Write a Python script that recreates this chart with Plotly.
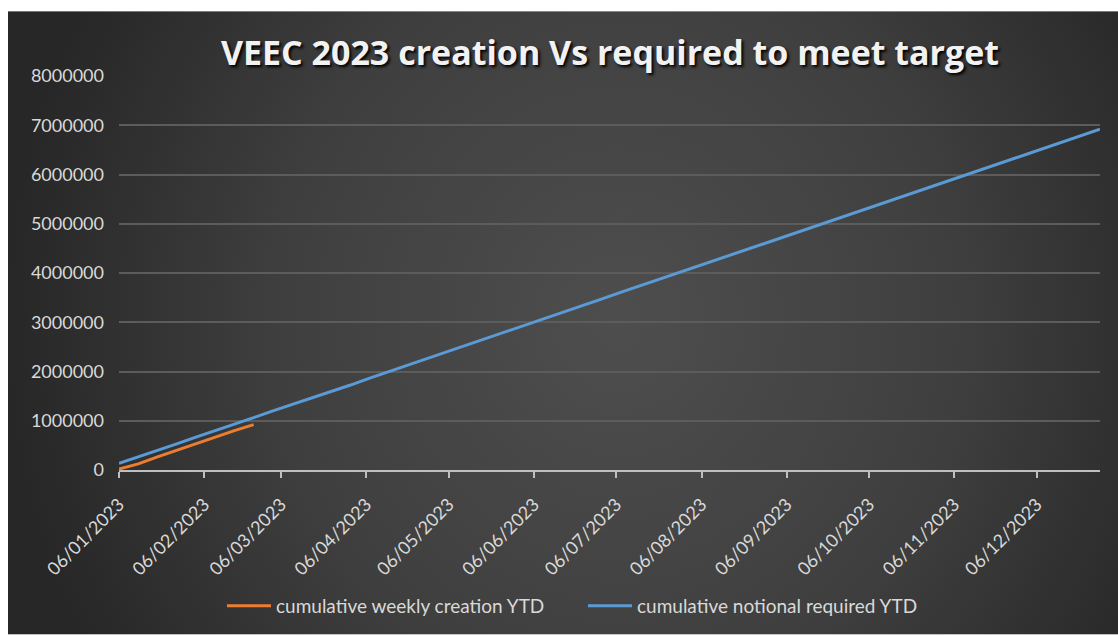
import base64
import plotly.graph_objects as go

# ---------------- data ----------------
week_dates = [
    "2023-01-06", "2023-01-13", "2023-01-20", "2023-01-27",
    "2023-02-03", "2023-02-10", "2023-02-17", "2023-02-24",
    "2023-03-03", "2023-03-10", "2023-03-17", "2023-03-24", "2023-03-31",
    "2023-04-07", "2023-04-14", "2023-04-21", "2023-04-28",
    "2023-05-05", "2023-05-12", "2023-05-19", "2023-05-26",
    "2023-06-02", "2023-06-09", "2023-06-16", "2023-06-23", "2023-06-30",
    "2023-07-07", "2023-07-14", "2023-07-21", "2023-07-28",
    "2023-08-04", "2023-08-11", "2023-08-18", "2023-08-25",
    "2023-09-01", "2023-09-08", "2023-09-15", "2023-09-22", "2023-09-29",
    "2023-10-06", "2023-10-13", "2023-10-20", "2023-10-27",
    "2023-11-03", "2023-11-10", "2023-11-17", "2023-11-24",
    "2023-12-01", "2023-12-08", "2023-12-15", "2023-12-22", "2023-12-29",
]

required_ytd = [
    133000, 262000, 398000, 530000, 668000, 796000, 934000, 1062000,
    1200000, 1328000, 1465000, 1598000, 1720000, 1860000, 1992000, 2128000,
    2255000, 2390000, 2525000, 2660000, 2790000, 2928000, 3060000, 3195000,
    3328000, 3460000, 3595000, 3728000, 3860000, 3995000, 4128000, 4262000,
    4395000, 4528000, 4662000, 4795000, 4928000, 5062000, 5195000, 5328000,
    5462000, 5595000, 5728000, 5862000, 5995000, 6128000, 6262000, 6395000,
    6528000, 6662000, 6795000, 6920000,
]

creation_dates = week_dates[:8]
creation_ytd = [20000, 125000, 265000, 400000, 545000, 670000, 800000, 920000]

tick_dates = [
    "2023-01-06", "2023-02-06", "2023-03-06", "2023-04-06", "2023-05-06", "2023-06-06",
    "2023-07-06", "2023-08-06", "2023-09-06", "2023-10-06", "2023-11-06", "2023-12-06",
]
tick_labels = [
    "06/01/2023", "06/02/2023", "06/03/2023", "06/04/2023", "06/05/2023", "06/06/2023",
    "06/07/2023", "06/08/2023", "06/09/2023", "06/10/2023", "06/11/2023", "06/12/2023",
]

series_names = ["cumulative weekly creation YTD", "cumulative notional required YTD"]
title_text = "VEEC 2023 creation Vs required to meet target"

# ---------------- layout geometry ----------------
W, H = 1118, 636
ML, MR, MT, MB = 119, 18, 76, 165
PW = W - ML - MR
PH = H - MT - MB

# radial gradient background (Excel-style dark chart area)
svg = (
    '<svg xmlns="http://www.w3.org/2000/svg" width="1110" height="625" '
    'viewBox="0 0 1110 625" preserveAspectRatio="none">'
    '<defs><radialGradient id="g" cx="0.55" cy="0.5" r="0.55" '
    'gradientTransform="translate(0.55,0.5) scale(1,1.9) translate(-0.55,-0.5)">'
    '<stop offset="0" stop-color="#4e4e4e"/>'
    '<stop offset="0.55" stop-color="#3f3f3f"/>'
    '<stop offset="1" stop-color="#272727"/>'
    '</radialGradient></defs>'
    '<rect x="0" y="0" width="1110" height="625" fill="url(#g)"/></svg>'
)
svg_uri = "data:image/svg+xml;base64," + base64.b64encode(svg.encode()).decode()

bg_left, bg_top, bg_right, bg_bottom = 8, 11, W, H
img_x = (bg_left - ML) / PW
img_y = (H - MB - bg_top) / PH
img_sx = (bg_right - bg_left) / PW
img_sy = (bg_bottom - bg_top) / PH

fig = go.Figure()
fig.add_trace(go.Scatter(
    x=creation_dates, y=creation_ytd, mode="lines", name=series_names[0],
    line=dict(color="#ed7d31", width=3),
))
fig.add_trace(go.Scatter(
    x=week_dates, y=required_ytd, mode="lines", name=series_names[1],
    line=dict(color="#5b9bd5", width=3),
))

label_font = dict(family="Lato, 'Open Sans', sans-serif", size=18, color="#d9d9d9")
legend_font = dict(family="Lato, 'Open Sans', sans-serif", size=19, color="#d9d9d9")

fig.update_layout(
    width=W, height=H,
    margin=dict(l=ML, r=MR, t=MT, b=MB, pad=0),
    paper_bgcolor="white",
    plot_bgcolor="rgba(0,0,0,0)",
    images=[dict(
        source=svg_uri, xref="paper", yref="paper",
        x=img_x, y=img_y, sizex=img_sx, sizey=img_sy,
        xanchor="left", yanchor="top", sizing="stretch", layer="below",
    )],
    title=dict(
        text=title_text,
        x=610 / W, xanchor="center",
        y=1 - 53 / H, yanchor="middle", yref="container",
        font=dict(family="'Open Sans', Lato, sans-serif", size=34, color="#f2f2f2",
                  weight="bold", shadow="2px 2px 3px #000000"),
    ),
    xaxis=dict(
        type="date",
        range=[week_dates[0], week_dates[-1]],
        tickvals=tick_dates, ticktext=tick_labels,
        tickangle=-45, tickfont=label_font,
        showgrid=False, zeroline=False,
        showline=True, linecolor="#bfbfbf", linewidth=2,
        ticks="outside", ticklen=6, tickwidth=2, tickcolor="#bfbfbf",
        ticklabelstandoff=9,
        fixedrange=True,
    ),
    yaxis=dict(
        range=[0, 8000000], dtick=1000000, tick0=0,
        tickformat="d", tickfont=label_font,
        showgrid=True, gridcolor="#5c5c5c", gridwidth=1.5,
        zeroline=False, showline=False, ticks="",
        ticklabelstandoff=14,
        fixedrange=True,
    ),
    legend=dict(
        orientation="h",
        x=(583 - ML) / PW, xanchor="center",
        y=(H - MB - 606) / PH, yanchor="middle",
        font=legend_font,
        bgcolor="rgba(0,0,0,0)",
        itemwidth=44,
        entrywidth=302,
    ),
    showlegend=True,
)

fig.write_html("out.html")
